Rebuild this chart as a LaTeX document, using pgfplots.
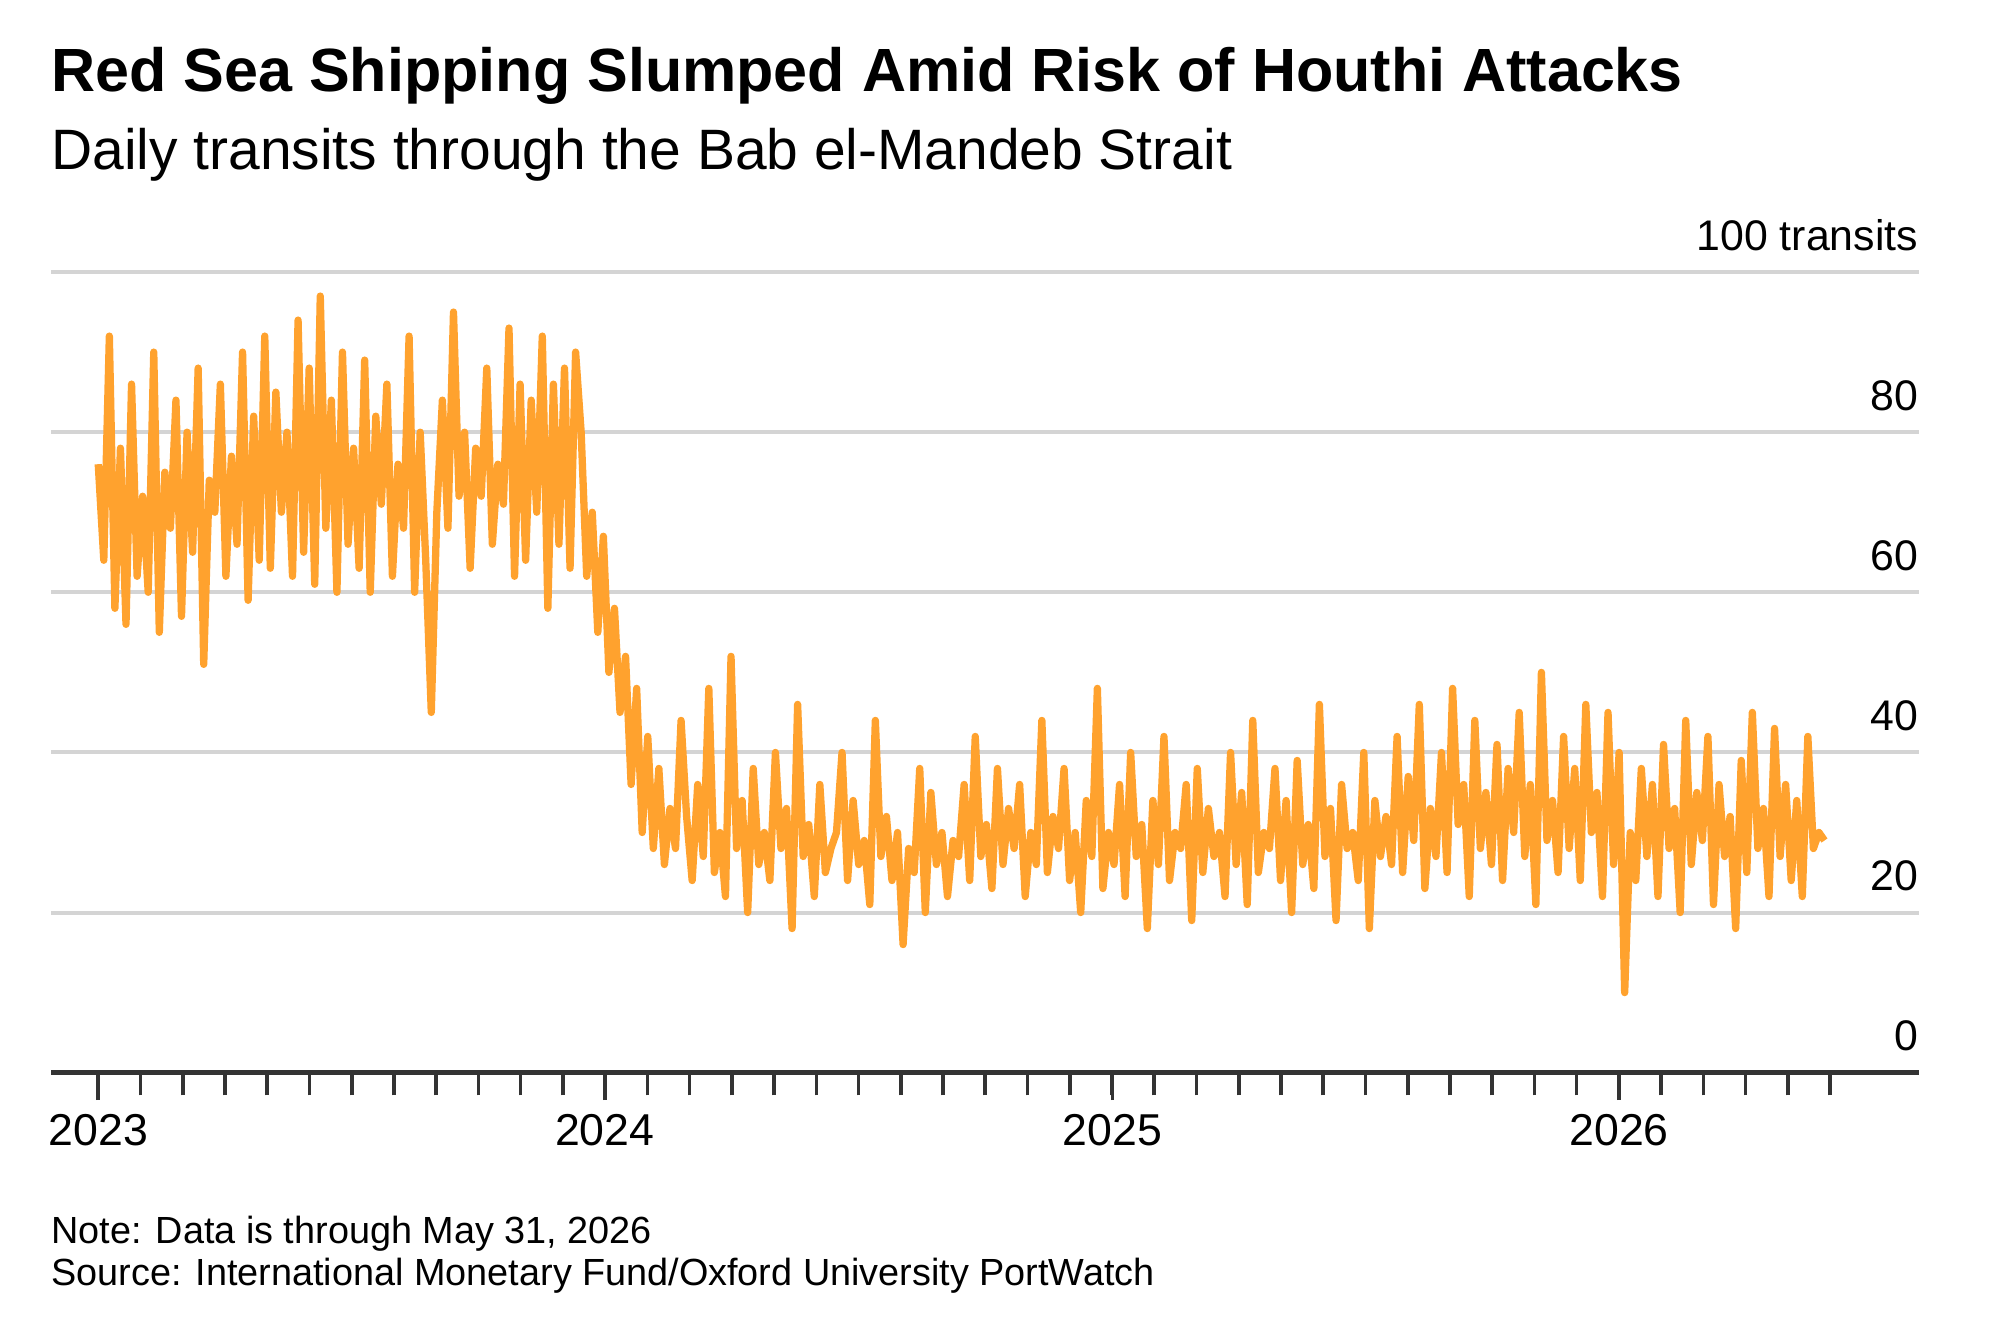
\documentclass[border=0pt]{standalone}
\usepackage{pgfplots}
\pgfplotsset{compat=1.18}
\usepackage{pgfplotstable}
\usepackage{fontspec}
\setmainfont{Liberation Sans}
\definecolor{org}{HTML}{FFA22E}
\definecolor{gr}{HTML}{D4D4D4}
\pgfplotstableread{
y
76
64
92
58
78
56
86
62
72
60
90
55
75
68
84
57
80
65
88
51
74
70
86
62
77
66
90
59
82
64
92
63
85
70
80
62
94
65
88
61
97
68
84
60
90
66
78
63
89
60
82
71
86
62
76
68
92
60
80
64
45
70
84
68
95
72
80
63
78
72
88
66
76
71
93
62
86
64
84
70
92
58
86
66
88
63
90
80
62
70
55
67
50
58
45
52
36
48
30
42
28
38
26
33
28
44
32
24
36
27
48
25
30
22
52
28
34
20
38
26
30
24
40
28
33
18
46
27
31
22
36
25
28
30
40
24
34
26
29
21
44
27
32
24
30
16
28
25
38
20
35
26
30
22
29
27
36
24
42
27
31
23
38
26
33
28
36
22
30
26
44
25
32
28
38
24
30
20
34
27
48
23
30
26
36
22
40
27
31
18
34
26
42
24
30
28
36
19
38
25
33
27
30
22
40
26
35
21
44
25
30
28
38
24
34
20
39
26
31
23
46
27
33
19
36
28
30
24
40
18
34
27
32
26
42
25
37
29
46
23
33
27
40
25
48
31
36
22
44
28
35
26
41
24
38
30
45
27
36
21
50
29
34
25
42
28
38
24
46
30
35
22
45
26
40
10
30
24
38
27
36
22
41
28
33
20
44
26
35
29
42
21
36
27
32
18
39
25
45
28
33
22
43
27
36
24
34
22
42
28
30
29
}\data
\begin{document}
\begin{tikzpicture}[x=1cm,y=1cm]
\useasboundingbox (0,0) rectangle (15.43,10.26);
\node[anchor=base west,inner sep=0pt,font=\fontsize{13.4}{16}\selectfont\bfseries] at (0.39,9.55) {Red Sea Shipping Slumped Amid Risk of Houthi Attacks};
\node[anchor=base west,inner sep=0pt,font=\fontsize{12.5}{15}\selectfont] at (0.39,8.95) {Daily transits through the Bab el-Mandeb Strait};
\node[anchor=base west,inner sep=0pt,font=\fontsize{8.3}{10}\selectfont] at (0.39,0.67) {Note: Data is through May 31, 2026};
\node[anchor=base west,inner sep=0pt,font=\fontsize{8.3}{10}\selectfont] at (0.39,0.34) {Source: International Monetary Fund/Oxford University PortWatch};
\begin{axis}[at={(0.394cm,1.984cm)},anchor=south west,scale only axis,
 width=14.41cm,height=6.177cm,xmin=-34,xmax=1312,ymin=0,ymax=100,
 axis y line=none, axis x line*=bottom, axis line style={black!80,line width=1pt},
 xtick={0,365,731,1096}, xticklabels={2023,2024,2025,2026},
 minor xtick={30.44,60.88,...,1250},
 tick align=outside, major tick length=6pt, minor tick length=5pt,
 tick style={black!80,line width=0.8pt},
 xticklabel style={font=\fontsize{9.8}{12}\selectfont, yshift=0.5pt},
 clip=false]
\foreach \v in {20,40,60,80,100}{\edef\t{\noexpand\draw[gr,line width=0.9pt] (axis cs:-34,\v) -- (axis cs:1312,\v);}\t}
\foreach \v in {0,20,40,60,80}{\edef\t{\noexpand\node[anchor=south east,inner sep=0pt,font=\noexpand\fontsize{9.4}{12}\noexpand\selectfont] at (axis cs:1312,\v) [yshift=4.5pt] {\v};}\t}
\node[anchor=south east,inner sep=0pt,font=\fontsize{9.4}{12}\selectfont] at (axis cs:1312,100) [yshift=4.5pt] {100 transits};
\addplot[org,line width=1.6pt,line join=round] table[x expr=\coordindex*4,y=y]{\data};
\end{axis}
\end{tikzpicture}
\end{document}
